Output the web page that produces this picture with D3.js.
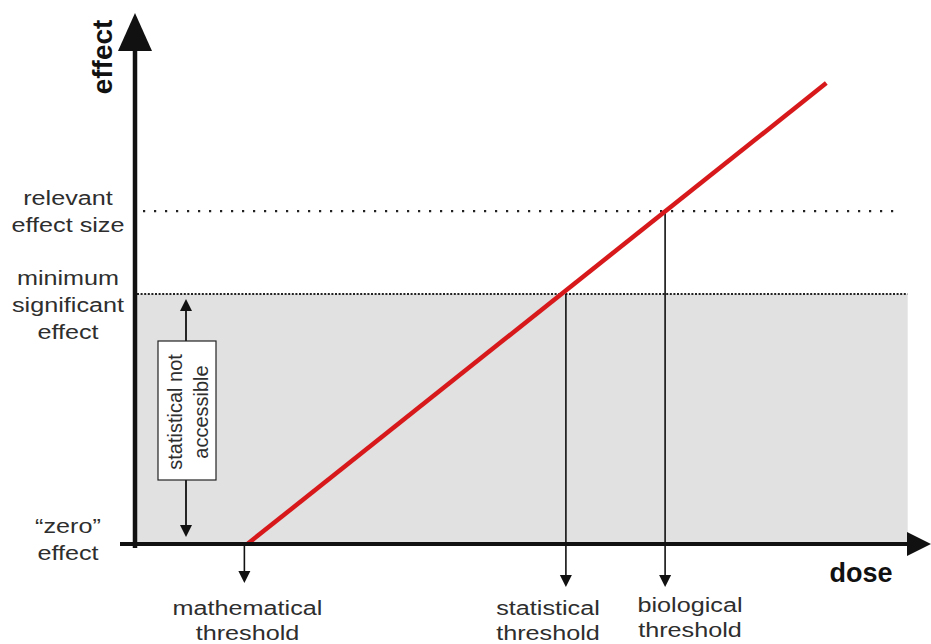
<!DOCTYPE html>
<html><head><meta charset="utf-8">
<script src="https://cdn.jsdelivr.net/npm/d3@7"></script>
<style>body{margin:0;background:#fff}svg{display:block}text{font-family:"Liberation Sans",Arial,sans-serif}</style>
</head><body><svg id="c" width="931" height="644"></svg>
<script>
// ---- data ----
const effectLevels = [0, 50.6, 67.4];            // "zero" effect, minimum significant, relevant
const levelLabels = [["\u201czero\u201d","effect"],["minimum","significant","effect"],["relevant","effect size"]];
const doseLine = [14.5, 89.2];                   // start / end dose of response line
const effectLine = [0, 93.3];
const thresholdDoses = [14.5, 55.6, 68.4];
const thresholdLabels = [["mathematical","threshold"],["statistical","threshold"],["biological","threshold"]];
const thresholdLabelCx = [247.5, 548, 690];
const thresholdLabelBase = [615, 615, 612];

const svg = d3.select("#c");
const x = d3.scaleLinear().domain([0,100]).range([135,910]);
const y = d3.scaleLinear().domain([0,100]).range([544,50]);
const x0 = x(0), y0 = y(0);
const ink = "#111", txt = "#2e2e2e";

function label(cx, by, s, size, sx){
  svg.append("text").attr("transform",`translate(${cx},${by}) scale(${sx},1)`)
    .attr("text-anchor","middle").attr("font-size",size).attr("fill",txt).text(s);
}

// gray area
svg.append("rect").attr("x",x0).attr("y",y(effectLevels[1])).attr("width",x(99.7)-x0)
  .attr("height",y0-y(effectLevels[1])).attr("fill","#e1e1e1");

// dotted lines
svg.append("line").attr("x1",x0+2).attr("x2",x(99.7)).attr("y1",y(effectLevels[1])).attr("y2",y(effectLevels[1]))
  .attr("stroke","#222").attr("stroke-width",2).attr("stroke-dasharray","2,1.6");
svg.append("line").attr("x1",x0+8).attr("x2",x(98.5)).attr("y1",y(effectLevels[2])).attr("y2",y(effectLevels[2]))
  .attr("stroke","#222").attr("stroke-width",2.2).attr("stroke-dasharray","2.2,8.8");

// threshold verticals with arrowheads
function arrowDown(cx, tipY){
  svg.append("path").attr("d",`M${cx-6},${tipY-12}L${cx+6},${tipY-12}L${cx},${tipY}Z`).attr("fill",ink);
}
function arrowUp(cx, tipY){
  svg.append("path").attr("d",`M${cx-6},${tipY+12}L${cx+6},${tipY+12}L${cx},${tipY}Z`).attr("fill",ink);
}
const topLevels = [0, effectLevels[1], effectLevels[2]];
thresholdDoses.forEach((d,i)=>{
  const cx = x(d) + (i===0 ? -3 : 0);
  const tip = i===0 ? 583 : 587;
  svg.append("line").attr("x1",cx).attr("x2",cx).attr("y1",i===0? y0 : y(topLevels[i])).attr("y2",tip-10)
    .attr("stroke",ink).attr("stroke-width",1.6);
  arrowDown(cx, tip);
  thresholdLabels[i].forEach((t,j)=> label(thresholdLabelCx[i], thresholdLabelBase[i]+j*25, t, 21, 1.2));
});

// red response line
svg.append("line").attr("x1",x(doseLine[0])).attr("y1",y(effectLine[0]))
  .attr("x2",x(doseLine[1])).attr("y2",y(effectLine[1]))
  .attr("stroke","#d7191c").attr("stroke-width",4.5);

// double arrow "statistical not accessible"
const ax = 186;
svg.append("line").attr("x1",ax).attr("x2",ax).attr("y1",y(effectLevels[1])+14).attr("y2",y0-16)
  .attr("stroke",ink).attr("stroke-width",1.8);
arrowUp(ax, y(effectLevels[1])+5);
arrowDown(ax, y0-7);
svg.append("rect").attr("x",158).attr("y",341).attr("width",58).attr("height",139)
  .attr("fill","#fff").attr("stroke","#222").attr("stroke-width",1.2);
const tg = svg.append("text").attr("transform","translate(187,412) rotate(-90)")
  .attr("text-anchor","middle").attr("font-size",20).attr("fill",txt);
tg.append("tspan").attr("x",0).attr("y",-5).text("statistical not");
tg.append("tspan").attr("x",0).attr("y",21).text("accessible");

// axes
svg.append("line").attr("x1",120).attr("x2",912).attr("y1",y0).attr("y2",y0).attr("stroke",ink).attr("stroke-width",4);
svg.append("line").attr("x1",x0).attr("x2",x0).attr("y1",y0+4).attr("y2",40).attr("stroke",ink).attr("stroke-width",4.5);
svg.append("path").attr("d",`M${x0},13L${x0+17},51L${x0-17},51Z`).attr("fill",ink);
svg.append("path").attr("d",`M931,${y0}L907,${y0-12}L907,${y0+12}Z`).attr("fill",ink);

// axis titles
svg.append("text").attr("transform","translate(112,57) rotate(-90)").attr("text-anchor","middle")
  .attr("font-size",28).attr("font-weight","bold").attr("fill",ink).text("effect");
svg.append("text").attr("x",861).attr("y",582).attr("text-anchor","middle")
  .attr("font-size",27).attr("font-weight","bold").attr("fill",ink).text("dose");

// level labels
const labelTop = [533, 285, 205];
levelLabels.forEach((lines,i)=>{
  lines.forEach((t,j)=> label(68, labelTop[i]+j*27, t, 21, 1.2));
});
</script></body></html>
